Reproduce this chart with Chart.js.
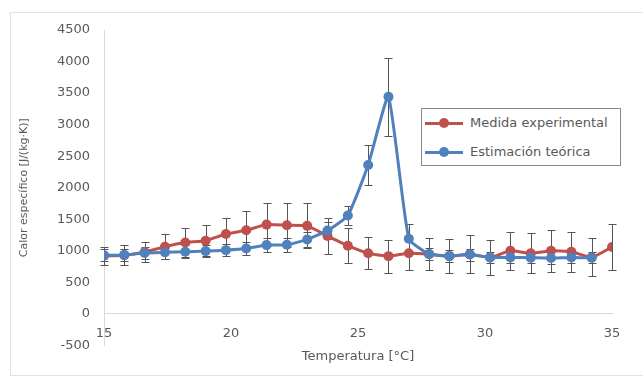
<!DOCTYPE html>
<html>
<head>
<meta charset="utf-8">
<script src="https://cdn.jsdelivr.net/npm/chart.js@4.4.1/dist/chart.umd.min.js"></script>
<style>
  html, body { margin: 0; padding: 0; background: #fff; }
  #wrap { position: relative; width: 643px; height: 378px; overflow: hidden; }
  #frame { position: absolute; left: 10px; top: 12px; width: 650px; height: 362px; border: 1px solid #e2e2e2; }
  #chart { position: absolute; left: 0; top: 0; }
  #legend {
    position: absolute; left: 421px; top: 108px; width: 198px; height: 56px;
    border: 1px solid #8a8a8a; background: #fff;
    font: 13px "DejaVu Sans", sans-serif; color: #595959;
  }
  .item { position: absolute; left: 0; height: 16px; line-height: 16px; white-space: nowrap; }
  .sym { position: absolute; left: 3px; top: 0; width: 38px; height: 16px; }
  .sym .ln { position: absolute; left: 0; top: 6.5px; width: 38px; height: 3px; }
  .sym .dot { position: absolute; left: 14px; top: 3px; width: 10px; height: 10px; border-radius: 50%; }
  .item .txt { position: absolute; left: 48px; top: 0; }
</style>
</head>
<body>
<div id="wrap">
  <div id="frame"></div>
  <canvas id="chart" width="643" height="378"></canvas>
  <div id="legend"></div>
</div>
<script>
  // temperature steps, °C
  const temperatures = [15, 15.8, 16.6, 17.4, 18.2, 19, 19.8, 20.6, 21.4, 22.2, 23, 23.8, 24.6,
    25.4, 26.2, 27, 27.8, 28.6, 29.4, 30.2, 31, 31.8, 32.6, 33.4, 34.2, 35];

  // measured specific heat and its error
  const measured = [920, 930, 980, 1065, 1130, 1160, 1265, 1325, 1415, 1405, 1395, 1235, 1080,
    960, 915, 960, 945, 915, 945, 895, 1000, 960, 1000, 985, 895, 1060];
  const measuredErr = [140, 155, 155, 195, 230, 245, 260, 300, 335, 345, 355, 285, 275,
    255, 260, 265, 255, 265, 300, 280, 300, 315, 335, 320, 300, 370];

  // theoretical estimate and its error
  const estimated = [930, 935, 965, 975, 985, 995, 1010, 1035, 1090, 1095, 1180, 1320, 1560,
    2360, 3440, 1190, 950, 915, 940, 895, 895, 890, 885, 895, 890, null];
  const estimatedErr = [95, 95, 100, 100, 100, 100, 100, 105, 110, 110, 120, 135, 155,
    310, 620, 240, 95, 95, 95, 90, 90, 90, 90, 90, 90, null];

  const seriesNames = ['Medida experimental', 'Estimación teórica'];
  const xTicks = { min: 15, max: 35, step: 5 };
  const yTicks = { min: -500, max: 4500, step: 500 };

  const red = '#c0504d';
  const blue = '#4f81bd';
  const textColor = '#595959';
  const axisColor = '#d9d9d9';
  const errColor = '#555555';

  function toPoints(values) {
    return temperatures.map((t, i) => ({ x: t, y: values[i] }));
  }

  const errorBars = {
    id: 'errorBars',
    beforeDatasetsDraw(chart) {
      const ctx = chart.ctx;
      const y = chart.scales.y;
      ctx.save();
      ctx.strokeStyle = errColor;
      ctx.lineWidth = 1;
      chart.data.datasets.forEach((ds, i) => {
        const meta = chart.getDatasetMeta(i);
        meta.data.forEach((pt, j) => {
          const v = ds.data[j].y;
          const e = ds.errors[j];
          if (v == null || e == null) return;
          const px = Math.round(pt.x) + 0.5;
          const top = Math.round(y.getPixelForValue(v + e)) + 0.5;
          const bot = Math.round(y.getPixelForValue(v - e)) + 0.5;
          ctx.beginPath();
          ctx.moveTo(px, top); ctx.lineTo(px, bot);
          ctx.moveTo(px - 4, top); ctx.lineTo(px + 4, top);
          ctx.moveTo(px - 4, bot); ctx.lineTo(px + 4, bot);
          ctx.stroke();
        });
      });
      ctx.restore();
    }
  };

  const tickFont = { family: 'DejaVu Sans', size: 13 };
  const plainNumber = v => String(v);

  const chart = new Chart(document.getElementById('chart'), {
    type: 'line',
    data: {
      datasets: [
        {
          label: seriesNames[0],
          data: toPoints(measured),
          errors: measuredErr,
          xAxisID: 'x',
          order: 1,
          borderColor: red,
          backgroundColor: red,
          borderWidth: 3,
          pointRadius: 5,
          pointBorderWidth: 0,
          pointBackgroundColor: red,
          tension: 0.15
        },
        {
          label: seriesNames[1],
          data: toPoints(estimated),
          errors: estimatedErr,
          xAxisID: 'x',
          order: 0,
          borderColor: blue,
          backgroundColor: blue,
          borderWidth: 3,
          pointRadius: 5,
          pointBorderWidth: 0,
          pointBackgroundColor: blue,
          tension: 0.15
        }
      ]
    },
    options: {
      responsive: false,
      animation: false,
      layout: { padding: { top: 30, right: 31, bottom: 0, left: 0 } },
      plugins: {
        legend: { display: false },
        tooltip: { enabled: false }
      },
      scales: {
        x: {
          type: 'linear',
          axis: 'x',
          min: xTicks.min,
          max: xTicks.max,
          position: { y: 0 },
          grid: { display: false, drawTicks: false },
          border: { color: axisColor },
          ticks: { stepSize: xTicks.step, padding: 12, color: textColor, font: tickFont, callback: plainNumber }
        },
        xTitle: {
          type: 'linear',
          axis: 'x',
          min: xTicks.min,
          max: xTicks.max,
          position: 'bottom',
          grid: { display: false, drawTicks: false },
          border: { display: false },
          ticks: { display: false },
          title: {
            display: true,
            text: 'Temperatura [°C]',
            color: textColor,
            font: { family: 'DejaVu Sans', size: 13 },
            padding: { top: 3, bottom: 14 }
          }
        },
        y: {
          min: yTicks.min,
          max: yTicks.max,
          grid: { display: false, drawTicks: false },
          border: { color: axisColor },
          ticks: { stepSize: yTicks.step, padding: 14, color: textColor, font: tickFont, callback: plainNumber },
          title: {
            display: true,
            text: 'Calor específico [J/(kg·K)]',
            color: textColor,
            font: { family: 'DejaVu Sans', size: 11 },
            padding: { top: 18, bottom: 0 }
          },
          afterFit(scale) { scale.width = 104; }
        }
      }
    },
    plugins: [errorBars]
  });

  // legend drawn as html, same look as the Excel one
  const legend = document.getElementById('legend');
  chart.data.datasets.forEach((ds, i) => {
    const item = document.createElement('div');
    item.className = 'item';
    item.style.top = (6 + i * 29) + 'px';
    item.innerHTML = '<span class="sym"><i class="ln"></i><i class="dot"></i></span><span class="txt"></span>';
    item.querySelector('.ln').style.background = ds.borderColor;
    item.querySelector('.dot').style.background = ds.borderColor;
    item.querySelector('.txt').textContent = ds.label;
    legend.appendChild(item);
  });
</script>
</body>
</html>
